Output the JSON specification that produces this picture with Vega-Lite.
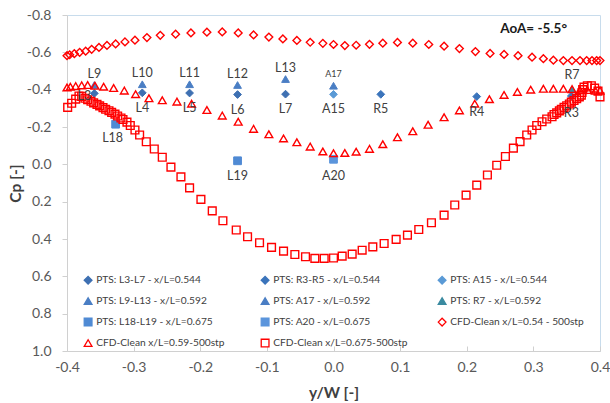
{
  "$schema": "https://vega.github.io/schema/vega-lite/v6.json",
  "width": 533,
  "height": 336,
  "autosize": {"type": "none"},
  "padding": {"left": 67, "top": 15, "right": 10, "bottom": 52},
  "background": "white",
  "config": {
    "view": {"stroke": "#c8dcec", "strokeWidth": 1},
    "font": "Lato",
    "axis": {
      "grid": false,
      "domainColor": "#d0d0d0",
      "tickColor": "#d0d0d0",
      "labelFont": "Lato",
      "labelFontSize": 14,
      "labelColor": "#595959",
      "titleFont": "Lato",
      "titleFontSize": 15.5,
      "titleFontWeight": "bold",
      "titleColor": "#404040"
    }
  },
  "title": {
    "text": "AoA= -5.5°",
    "anchor": "end",
    "frame": "group",
    "orient": "top",
    "offset": -34,
    "dx": -33,
    "baseline": "middle",
    "font": "Lato",
    "fontSize": 13.5,
    "fontWeight": "bold",
    "color": "#1a1a1a"
  },
  "datasets": {
    "pts": [
      {"s": "PTS: L3-L7 - x/L=0.544", "label": "L3", "x": -0.359, "y": -0.380},
      {"s": "PTS: L3-L7 - x/L=0.544", "label": "L4", "x": -0.287, "y": -0.383},
      {"s": "PTS: L3-L7 - x/L=0.544", "label": "L5", "x": -0.216, "y": -0.382},
      {"s": "PTS: L3-L7 - x/L=0.544", "label": "L6", "x": -0.144, "y": -0.374},
      {"s": "PTS: L3-L7 - x/L=0.544", "label": "L7", "x": -0.072, "y": -0.376},
      {"s": "PTS: R3-R5 - x/L=0.544", "label": "R3", "x": 0.357, "y": -0.366},
      {"s": "PTS: R3-R5 - x/L=0.544", "label": "R4", "x": 0.215, "y": -0.363},
      {"s": "PTS: R3-R5 - x/L=0.544", "label": "R5", "x": 0.071, "y": -0.375},
      {"s": "PTS: A15 - x/L=0.544", "label": "A15", "x": 0.0, "y": -0.375},
      {"s": "PTS: L9-L13 - x/L=0.592", "label": "L9", "x": -0.359, "y": -0.425},
      {"s": "PTS: L9-L13 - x/L=0.592", "label": "L10", "x": -0.287, "y": -0.429},
      {"s": "PTS: L9-L13 - x/L=0.592", "label": "L11", "x": -0.216, "y": -0.429},
      {"s": "PTS: L9-L13 - x/L=0.592", "label": "L12", "x": -0.144, "y": -0.425},
      {"s": "PTS: L9-L13 - x/L=0.592", "label": "L13", "x": -0.072, "y": -0.457},
      {"s": "PTS: A17 - x/L=0.592", "label": "A17", "x": 0.0, "y": -0.421},
      {"s": "PTS: R7 - x/L=0.592", "label": "R7", "x": 0.358, "y": -0.402},
      {"s": "PTS: L18-L19 - x/L=0.675", "label": "L18", "x": -0.327, "y": -0.215},
      {"s": "PTS: L18-L19 - x/L=0.675", "label": "L19", "x": -0.144, "y": -0.019},
      {"s": "PTS: A20 - x/L=0.675", "label": "A20", "x": 0.0, "y": -0.027}
    ],
    "cfd": [
      {"s": "CFD-Clean x/L=0.54 - 500stp", "x": -0.400, "y": -0.582},
      {"s": "CFD-Clean x/L=0.54 - 500stp", "x": -0.396, "y": -0.587},
      {"s": "CFD-Clean x/L=0.54 - 500stp", "x": -0.389, "y": -0.593},
      {"s": "CFD-Clean x/L=0.54 - 500stp", "x": -0.381, "y": -0.600},
      {"s": "CFD-Clean x/L=0.54 - 500stp", "x": -0.372, "y": -0.606},
      {"s": "CFD-Clean x/L=0.54 - 500stp", "x": -0.363, "y": -0.616},
      {"s": "CFD-Clean x/L=0.54 - 500stp", "x": -0.352, "y": -0.626},
      {"s": "CFD-Clean x/L=0.54 - 500stp", "x": -0.340, "y": -0.637},
      {"s": "CFD-Clean x/L=0.54 - 500stp", "x": -0.327, "y": -0.645},
      {"s": "CFD-Clean x/L=0.54 - 500stp", "x": -0.313, "y": -0.656},
      {"s": "CFD-Clean x/L=0.54 - 500stp", "x": -0.298, "y": -0.665},
      {"s": "CFD-Clean x/L=0.54 - 500stp", "x": -0.280, "y": -0.679},
      {"s": "CFD-Clean x/L=0.54 - 500stp", "x": -0.260, "y": -0.691},
      {"s": "CFD-Clean x/L=0.54 - 500stp", "x": -0.237, "y": -0.697},
      {"s": "CFD-Clean x/L=0.54 - 500stp", "x": -0.214, "y": -0.704},
      {"s": "CFD-Clean x/L=0.54 - 500stp", "x": -0.190, "y": -0.708},
      {"s": "CFD-Clean x/L=0.54 - 500stp", "x": -0.167, "y": -0.709},
      {"s": "CFD-Clean x/L=0.54 - 500stp", "x": -0.143, "y": -0.704},
      {"s": "CFD-Clean x/L=0.54 - 500stp", "x": -0.120, "y": -0.693},
      {"s": "CFD-Clean x/L=0.54 - 500stp", "x": -0.097, "y": -0.682},
      {"s": "CFD-Clean x/L=0.54 - 500stp", "x": -0.076, "y": -0.672},
      {"s": "CFD-Clean x/L=0.54 - 500stp", "x": -0.055, "y": -0.664},
      {"s": "CFD-Clean x/L=0.54 - 500stp", "x": -0.035, "y": -0.654},
      {"s": "CFD-Clean x/L=0.54 - 500stp", "x": -0.016, "y": -0.648},
      {"s": "CFD-Clean x/L=0.54 - 500stp", "x": 0.000, "y": -0.642},
      {"s": "CFD-Clean x/L=0.54 - 500stp", "x": 0.017, "y": -0.636},
      {"s": "CFD-Clean x/L=0.54 - 500stp", "x": 0.034, "y": -0.638},
      {"s": "CFD-Clean x/L=0.54 - 500stp", "x": 0.054, "y": -0.643},
      {"s": "CFD-Clean x/L=0.54 - 500stp", "x": 0.074, "y": -0.649},
      {"s": "CFD-Clean x/L=0.54 - 500stp", "x": 0.096, "y": -0.653},
      {"s": "CFD-Clean x/L=0.54 - 500stp", "x": 0.119, "y": -0.649},
      {"s": "CFD-Clean x/L=0.54 - 500stp", "x": 0.143, "y": -0.642},
      {"s": "CFD-Clean x/L=0.54 - 500stp", "x": 0.166, "y": -0.633},
      {"s": "CFD-Clean x/L=0.54 - 500stp", "x": 0.189, "y": -0.620},
      {"s": "CFD-Clean x/L=0.54 - 500stp", "x": 0.213, "y": -0.604},
      {"s": "CFD-Clean x/L=0.54 - 500stp", "x": 0.235, "y": -0.594},
      {"s": "CFD-Clean x/L=0.54 - 500stp", "x": 0.256, "y": -0.589},
      {"s": "CFD-Clean x/L=0.54 - 500stp", "x": 0.277, "y": -0.582},
      {"s": "CFD-Clean x/L=0.54 - 500stp", "x": 0.298, "y": -0.574},
      {"s": "CFD-Clean x/L=0.54 - 500stp", "x": 0.315, "y": -0.566},
      {"s": "CFD-Clean x/L=0.54 - 500stp", "x": 0.330, "y": -0.558},
      {"s": "CFD-Clean x/L=0.54 - 500stp", "x": 0.345, "y": -0.556},
      {"s": "CFD-Clean x/L=0.54 - 500stp", "x": 0.358, "y": -0.556},
      {"s": "CFD-Clean x/L=0.54 - 500stp", "x": 0.370, "y": -0.556},
      {"s": "CFD-Clean x/L=0.54 - 500stp", "x": 0.380, "y": -0.556},
      {"s": "CFD-Clean x/L=0.54 - 500stp", "x": 0.388, "y": -0.556},
      {"s": "CFD-Clean x/L=0.54 - 500stp", "x": 0.395, "y": -0.556},
      {"s": "CFD-Clean x/L=0.54 - 500stp", "x": 0.400, "y": -0.556},

      {"s": "CFD-Clean x/L=0.59-500stp", "x": -0.400, "y": -0.412},
      {"s": "CFD-Clean x/L=0.59-500stp", "x": -0.395, "y": -0.416},
      {"s": "CFD-Clean x/L=0.59-500stp", "x": -0.387, "y": -0.419},
      {"s": "CFD-Clean x/L=0.59-500stp", "x": -0.378, "y": -0.423},
      {"s": "CFD-Clean x/L=0.59-500stp", "x": -0.369, "y": -0.425},
      {"s": "CFD-Clean x/L=0.59-500stp", "x": -0.358, "y": -0.421},
      {"s": "CFD-Clean x/L=0.59-500stp", "x": -0.345, "y": -0.416},
      {"s": "CFD-Clean x/L=0.59-500stp", "x": -0.330, "y": -0.409},
      {"s": "CFD-Clean x/L=0.59-500stp", "x": -0.314, "y": -0.395},
      {"s": "CFD-Clean x/L=0.59-500stp", "x": -0.297, "y": -0.376},
      {"s": "CFD-Clean x/L=0.59-500stp", "x": -0.277, "y": -0.354},
      {"s": "CFD-Clean x/L=0.59-500stp", "x": -0.257, "y": -0.343},
      {"s": "CFD-Clean x/L=0.59-500stp", "x": -0.235, "y": -0.336},
      {"s": "CFD-Clean x/L=0.59-500stp", "x": -0.213, "y": -0.325},
      {"s": "CFD-Clean x/L=0.59-500stp", "x": -0.190, "y": -0.291},
      {"s": "CFD-Clean x/L=0.59-500stp", "x": -0.167, "y": -0.261},
      {"s": "CFD-Clean x/L=0.59-500stp", "x": -0.143, "y": -0.228},
      {"s": "CFD-Clean x/L=0.59-500stp", "x": -0.120, "y": -0.190},
      {"s": "CFD-Clean x/L=0.59-500stp", "x": -0.097, "y": -0.161},
      {"s": "CFD-Clean x/L=0.59-500stp", "x": -0.075, "y": -0.139},
      {"s": "CFD-Clean x/L=0.59-500stp", "x": -0.055, "y": -0.118},
      {"s": "CFD-Clean x/L=0.59-500stp", "x": -0.035, "y": -0.095},
      {"s": "CFD-Clean x/L=0.59-500stp", "x": -0.016, "y": -0.069},
      {"s": "CFD-Clean x/L=0.59-500stp", "x": 0.000, "y": -0.059},
      {"s": "CFD-Clean x/L=0.59-500stp", "x": 0.017, "y": -0.061},
      {"s": "CFD-Clean x/L=0.59-500stp", "x": 0.034, "y": -0.068},
      {"s": "CFD-Clean x/L=0.59-500stp", "x": 0.054, "y": -0.083},
      {"s": "CFD-Clean x/L=0.59-500stp", "x": 0.074, "y": -0.108},
      {"s": "CFD-Clean x/L=0.59-500stp", "x": 0.096, "y": -0.145},
      {"s": "CFD-Clean x/L=0.59-500stp", "x": 0.119, "y": -0.177},
      {"s": "CFD-Clean x/L=0.59-500stp", "x": 0.142, "y": -0.212},
      {"s": "CFD-Clean x/L=0.59-500stp", "x": 0.166, "y": -0.252},
      {"s": "CFD-Clean x/L=0.59-500stp", "x": 0.189, "y": -0.289},
      {"s": "CFD-Clean x/L=0.59-500stp", "x": 0.212, "y": -0.325},
      {"s": "CFD-Clean x/L=0.59-500stp", "x": 0.234, "y": -0.349},
      {"s": "CFD-Clean x/L=0.59-500stp", "x": 0.256, "y": -0.372},
      {"s": "CFD-Clean x/L=0.59-500stp", "x": 0.276, "y": -0.388},
      {"s": "CFD-Clean x/L=0.59-500stp", "x": 0.296, "y": -0.400},
      {"s": "CFD-Clean x/L=0.59-500stp", "x": 0.315, "y": -0.405},
      {"s": "CFD-Clean x/L=0.59-500stp", "x": 0.330, "y": -0.405},
      {"s": "CFD-Clean x/L=0.59-500stp", "x": 0.345, "y": -0.405},
      {"s": "CFD-Clean x/L=0.59-500stp", "x": 0.358, "y": -0.403},
      {"s": "CFD-Clean x/L=0.59-500stp", "x": 0.370, "y": -0.398},
      {"s": "CFD-Clean x/L=0.59-500stp", "x": 0.381, "y": -0.398},
      {"s": "CFD-Clean x/L=0.59-500stp", "x": 0.393, "y": -0.395},
      {"s": "CFD-Clean x/L=0.59-500stp", "x": 0.400, "y": -0.395},

      {"s": "CFD-Clean x/L=0.675-500stp", "x": -0.399, "y": -0.305},
      {"s": "CFD-Clean x/L=0.675-500stp", "x": -0.393, "y": -0.327},
      {"s": "CFD-Clean x/L=0.675-500stp", "x": -0.387, "y": -0.349},
      {"s": "CFD-Clean x/L=0.675-500stp", "x": -0.382, "y": -0.366},
      {"s": "CFD-Clean x/L=0.675-500stp", "x": -0.378, "y": -0.364},
      {"s": "CFD-Clean x/L=0.675-500stp", "x": -0.373, "y": -0.354},
      {"s": "CFD-Clean x/L=0.675-500stp", "x": -0.369, "y": -0.346},
      {"s": "CFD-Clean x/L=0.675-500stp", "x": -0.364, "y": -0.338},
      {"s": "CFD-Clean x/L=0.675-500stp", "x": -0.360, "y": -0.329},
      {"s": "CFD-Clean x/L=0.675-500stp", "x": -0.355, "y": -0.321},
      {"s": "CFD-Clean x/L=0.675-500stp", "x": -0.351, "y": -0.313},
      {"s": "CFD-Clean x/L=0.675-500stp", "x": -0.346, "y": -0.304},
      {"s": "CFD-Clean x/L=0.675-500stp", "x": -0.342, "y": -0.295},
      {"s": "CFD-Clean x/L=0.675-500stp", "x": -0.337, "y": -0.287},
      {"s": "CFD-Clean x/L=0.675-500stp", "x": -0.333, "y": -0.278},
      {"s": "CFD-Clean x/L=0.675-500stp", "x": -0.328, "y": -0.269},
      {"s": "CFD-Clean x/L=0.675-500stp", "x": -0.324, "y": -0.259},
      {"s": "CFD-Clean x/L=0.675-500stp", "x": -0.319, "y": -0.248},
      {"s": "CFD-Clean x/L=0.675-500stp", "x": -0.316, "y": -0.240},
      {"s": "CFD-Clean x/L=0.675-500stp", "x": -0.310, "y": -0.226},
      {"s": "CFD-Clean x/L=0.675-500stp", "x": -0.305, "y": -0.208},
      {"s": "CFD-Clean x/L=0.675-500stp", "x": -0.298, "y": -0.184},
      {"s": "CFD-Clean x/L=0.675-500stp", "x": -0.291, "y": -0.157},
      {"s": "CFD-Clean x/L=0.675-500stp", "x": -0.281, "y": -0.121},
      {"s": "CFD-Clean x/L=0.675-500stp", "x": -0.269, "y": -0.082},
      {"s": "CFD-Clean x/L=0.675-500stp", "x": -0.257, "y": -0.038},
      {"s": "CFD-Clean x/L=0.675-500stp", "x": -0.244, "y": 0.015},
      {"s": "CFD-Clean x/L=0.675-500stp", "x": -0.229, "y": 0.067},
      {"s": "CFD-Clean x/L=0.675-500stp", "x": -0.216, "y": 0.126},
      {"s": "CFD-Clean x/L=0.675-500stp", "x": -0.199, "y": 0.188},
      {"s": "CFD-Clean x/L=0.675-500stp", "x": -0.182, "y": 0.249},
      {"s": "CFD-Clean x/L=0.675-500stp", "x": -0.166, "y": 0.302},
      {"s": "CFD-Clean x/L=0.675-500stp", "x": -0.146, "y": 0.352},
      {"s": "CFD-Clean x/L=0.675-500stp", "x": -0.129, "y": 0.388},
      {"s": "CFD-Clean x/L=0.675-500stp", "x": -0.111, "y": 0.420},
      {"s": "CFD-Clean x/L=0.675-500stp", "x": -0.093, "y": 0.445},
      {"s": "CFD-Clean x/L=0.675-500stp", "x": -0.075, "y": 0.465},
      {"s": "CFD-Clean x/L=0.675-500stp", "x": -0.058, "y": 0.483},
      {"s": "CFD-Clean x/L=0.675-500stp", "x": -0.042, "y": 0.495},
      {"s": "CFD-Clean x/L=0.675-500stp", "x": -0.028, "y": 0.504},
      {"s": "CFD-Clean x/L=0.675-500stp", "x": -0.014, "y": 0.504},
      {"s": "CFD-Clean x/L=0.675-500stp", "x": 0.000, "y": 0.502},
      {"s": "CFD-Clean x/L=0.675-500stp", "x": 0.013, "y": 0.492},
      {"s": "CFD-Clean x/L=0.675-500stp", "x": 0.028, "y": 0.481},
      {"s": "CFD-Clean x/L=0.675-500stp", "x": 0.043, "y": 0.460},
      {"s": "CFD-Clean x/L=0.675-500stp", "x": 0.059, "y": 0.442},
      {"s": "CFD-Clean x/L=0.675-500stp", "x": 0.076, "y": 0.424},
      {"s": "CFD-Clean x/L=0.675-500stp", "x": 0.094, "y": 0.402},
      {"s": "CFD-Clean x/L=0.675-500stp", "x": 0.111, "y": 0.379},
      {"s": "CFD-Clean x/L=0.675-500stp", "x": 0.128, "y": 0.349},
      {"s": "CFD-Clean x/L=0.675-500stp", "x": 0.147, "y": 0.313},
      {"s": "CFD-Clean x/L=0.675-500stp", "x": 0.166, "y": 0.272},
      {"s": "CFD-Clean x/L=0.675-500stp", "x": 0.182, "y": 0.218},
      {"s": "CFD-Clean x/L=0.675-500stp", "x": 0.199, "y": 0.165},
      {"s": "CFD-Clean x/L=0.675-500stp", "x": 0.215, "y": 0.111},
      {"s": "CFD-Clean x/L=0.675-500stp", "x": 0.231, "y": 0.057},
      {"s": "CFD-Clean x/L=0.675-500stp", "x": 0.245, "y": 0.005},
      {"s": "CFD-Clean x/L=0.675-500stp", "x": 0.258, "y": -0.042},
      {"s": "CFD-Clean x/L=0.675-500stp", "x": 0.270, "y": -0.087},
      {"s": "CFD-Clean x/L=0.675-500stp", "x": 0.280, "y": -0.122},
      {"s": "CFD-Clean x/L=0.675-500stp", "x": 0.290, "y": -0.157},
      {"s": "CFD-Clean x/L=0.675-500stp", "x": 0.298, "y": -0.184},
      {"s": "CFD-Clean x/L=0.675-500stp", "x": 0.305, "y": -0.208},
      {"s": "CFD-Clean x/L=0.675-500stp", "x": 0.313, "y": -0.228},
      {"s": "CFD-Clean x/L=0.675-500stp", "x": 0.320, "y": -0.243},
      {"s": "CFD-Clean x/L=0.675-500stp", "x": 0.328, "y": -0.255},
      {"s": "CFD-Clean x/L=0.675-500stp", "x": 0.331, "y": -0.267},
      {"s": "CFD-Clean x/L=0.675-500stp", "x": 0.335, "y": -0.276},
      {"s": "CFD-Clean x/L=0.675-500stp", "x": 0.339, "y": -0.286},
      {"s": "CFD-Clean x/L=0.675-500stp", "x": 0.342, "y": -0.295},
      {"s": "CFD-Clean x/L=0.675-500stp", "x": 0.346, "y": -0.305},
      {"s": "CFD-Clean x/L=0.675-500stp", "x": 0.350, "y": -0.314},
      {"s": "CFD-Clean x/L=0.675-500stp", "x": 0.354, "y": -0.323},
      {"s": "CFD-Clean x/L=0.675-500stp", "x": 0.357, "y": -0.333},
      {"s": "CFD-Clean x/L=0.675-500stp", "x": 0.361, "y": -0.342},
      {"s": "CFD-Clean x/L=0.675-500stp", "x": 0.365, "y": -0.352},
      {"s": "CFD-Clean x/L=0.675-500stp", "x": 0.369, "y": -0.361},
      {"s": "CFD-Clean x/L=0.675-500stp", "x": 0.372, "y": -0.371},
      {"s": "CFD-Clean x/L=0.675-500stp", "x": 0.373, "y": -0.385},
      {"s": "CFD-Clean x/L=0.675-500stp", "x": 0.374, "y": -0.400},
      {"s": "CFD-Clean x/L=0.675-500stp", "x": 0.376, "y": -0.414},
      {"s": "CFD-Clean x/L=0.675-500stp", "x": 0.381, "y": -0.421},
      {"s": "CFD-Clean x/L=0.675-500stp", "x": 0.387, "y": -0.421},
      {"s": "CFD-Clean x/L=0.675-500stp", "x": 0.392, "y": -0.408},
      {"s": "CFD-Clean x/L=0.675-500stp", "x": 0.397, "y": -0.392},
      {"s": "CFD-Clean x/L=0.675-500stp", "x": 0.400, "y": -0.361}
    ]
  },
  "encoding": {
    "x": {
      "field": "x",
      "type": "quantitative",
      "scale": {"domain": [-0.4, 0.4], "nice": false, "zero": false},
      "axis": {
        "title": "y/W [-]",
        "values": [-0.4, -0.3, -0.2, -0.1, 0, 0.1, 0.2, 0.3, 0.4],
        "labelExpr": "replace(format(datum.value, '.1f'), '\u2212', '-')",
        "tickSize": -5,
        "labelPadding": 14,
        "titleY": 41,
        "titleBaseline": "middle",
        "labelFlush": false
      }
    },
    "y": {
      "field": "y",
      "type": "quantitative",
      "scale": {"domain": [-0.8, 1.0], "reverse": true, "nice": false, "zero": false},
      "axis": {
        "title": "Cp [-]",
        "values": [-0.8, -0.6, -0.4, -0.2, 0, 0.2, 0.4, 0.6, 0.8, 1.0],
        "labelExpr": "replace(format(datum.value, '.1f'), '\u2212', '-')",
        "tickSize": 5,
        "labelPadding": 11,
        "titleX": -52,
        "titleBaseline": "middle",
        "titleAngle": -90,
        "labelFlush": false
      }
    }
  },
  "layer": [
    {
      "data": {"name": "pts"},
      "mark": {"type": "point", "strokeWidth": 1, "opacity": 1},
      "encoding": {
        "shape": {"field": "s", "type": "nominal", "scale": {"domain": ["PTS: L3-L7 - x/L=0.544", "PTS: R3-R5 - x/L=0.544", "PTS: A15 - x/L=0.544", "PTS: L9-L13 - x/L=0.592", "PTS: A17 - x/L=0.592", "PTS: R7 - x/L=0.592", "PTS: L18-L19 - x/L=0.675", "PTS: A20 - x/L=0.675", "CFD-Clean x/L=0.54 - 500stp", "CFD-Clean x/L=0.59-500stp", "CFD-Clean x/L=0.675-500stp"], "range": ["diamond", "diamond", "diamond", "triangle-up", "triangle-up", "triangle-up", "square", "square", "diamond", "triangle-up", "square"]}},
        "fill": {"field": "s", "type": "nominal", "scale": {"domain": ["PTS: L3-L7 - x/L=0.544", "PTS: R3-R5 - x/L=0.544", "PTS: A15 - x/L=0.544", "PTS: L9-L13 - x/L=0.592", "PTS: A17 - x/L=0.592", "PTS: R7 - x/L=0.592", "PTS: L18-L19 - x/L=0.675", "PTS: A20 - x/L=0.675", "CFD-Clean x/L=0.54 - 500stp", "CFD-Clean x/L=0.59-500stp", "CFD-Clean x/L=0.675-500stp"], "range": ["#3e70b2", "#3b74bb", "#5a9ad6", "#4a7ec4", "#4a7ec4", "#3a8aa0", "#4f8ad4", "#5b95dc", "transparent", "transparent", "transparent"]},
          "legend": {"title": null, "orient": "none", "direction": "horizontal", "legendX": 16, "legendY": 260, "columns": 3, "gridAlign": "all", "columnPadding": 27, "rowPadding": 7, "labelFont": "Lato", "labelFontSize": 10.2, "labelColor": "#404040", "labelLimit": 300, "symbolStrokeWidth": 1.3, "labelOffset": 3}},
        "stroke": {"field": "s", "type": "nominal", "scale": {"domain": ["PTS: L3-L7 - x/L=0.544", "PTS: R3-R5 - x/L=0.544", "PTS: A15 - x/L=0.544", "PTS: L9-L13 - x/L=0.592", "PTS: A17 - x/L=0.592", "PTS: R7 - x/L=0.592", "PTS: L18-L19 - x/L=0.675", "PTS: A20 - x/L=0.675", "CFD-Clean x/L=0.54 - 500stp", "CFD-Clean x/L=0.59-500stp", "CFD-Clean x/L=0.675-500stp"], "range": ["#3e70b2", "#3b74bb", "#5a9ad6", "#4a7ec4", "#4a7ec4", "#3a8aa0", "#4f8ad4", "#5b95dc", "#ff0000", "#ff0000", "#ff0000"]}},
        "size": {"field": "s", "type": "nominal", "scale": {"domain": ["PTS: L3-L7 - x/L=0.544", "PTS: R3-R5 - x/L=0.544", "PTS: A15 - x/L=0.544", "PTS: L9-L13 - x/L=0.592", "PTS: A17 - x/L=0.592", "PTS: R7 - x/L=0.592", "PTS: L18-L19 - x/L=0.675", "PTS: A20 - x/L=0.675", "CFD-Clean x/L=0.54 - 500stp", "CFD-Clean x/L=0.59-500stp", "CFD-Clean x/L=0.675-500stp"], "range": [60, 60, 34, 60, 48, 60, 52, 28, 62, 62, 54]}}
      }
    },
    {
      "data": {"name": "cfd"},
      "mark": {"type": "point", "strokeWidth": 1.4, "opacity": 1},
      "encoding": {
        "shape": {"field": "s", "type": "nominal"},
        "fill": {"field": "s", "type": "nominal"},
        "stroke": {"field": "s", "type": "nominal"},
        "size": {"field": "s", "type": "nominal"}
      }
    },
    {
      "data": {"name": "pts"},
      "transform": [{"filter": {"field": "label", "oneOf": ["L9", "L10", "L11", "L12", "L13"]}}],
      "mark": {"type": "text", "font": "Lato", "fontSize": 12.5, "color": "#404040", "baseline": "middle", "dy": -11.5},
      "encoding": {"text": {"field": "label"}}
    },
    {
      "data": {"name": "pts"},
      "transform": [{"filter": {"field": "label", "equal": "A17"}}],
      "mark": {"type": "text", "font": "Lato", "fontSize": 9, "color": "#404040", "baseline": "middle", "dy": -12},
      "encoding": {"text": {"field": "label"}}
    },
    {
      "data": {"name": "pts"},
      "transform": [{"filter": {"field": "label", "equal": "R7"}}],
      "mark": {"type": "text", "font": "Lato", "fontSize": 12.5, "color": "#404040", "baseline": "middle", "dy": -14.5},
      "encoding": {"text": {"field": "label"}}
    },
    {
      "data": {"name": "pts"},
      "transform": [{"filter": {"field": "label", "oneOf": ["L4", "L5", "L6", "L7", "A15", "R5", "R4", "L19"]}}],
      "mark": {"type": "text", "font": "Lato", "fontSize": 12.5, "color": "#404040", "baseline": "middle", "dy": 15},
      "encoding": {"text": {"field": "label"}}
    },
    {
      "data": {"name": "pts"},
      "transform": [{"filter": {"field": "label", "oneOf": ["R3", "A20"]}}],
      "mark": {"type": "text", "font": "Lato", "fontSize": 12.5, "color": "#404040", "baseline": "middle", "dy": 17},
      "encoding": {"text": {"field": "label"}}
    },
    {
      "data": {"name": "pts"},
      "transform": [{"filter": {"field": "label", "equal": "L18"}}],
      "mark": {"type": "text", "font": "Lato", "fontSize": 12.5, "color": "#404040", "baseline": "middle", "dx": -3, "dy": 14},
      "encoding": {"text": {"field": "label"}}
    },
    {
      "data": {"name": "pts"},
      "transform": [{"filter": {"field": "label", "equal": "L3"}}],
      "mark": {"type": "text", "font": "Lato", "fontSize": 12.5, "color": "#404040", "baseline": "middle", "dx": -10, "dy": 3},
      "encoding": {"text": {"field": "label"}}
    }
  ]
}
